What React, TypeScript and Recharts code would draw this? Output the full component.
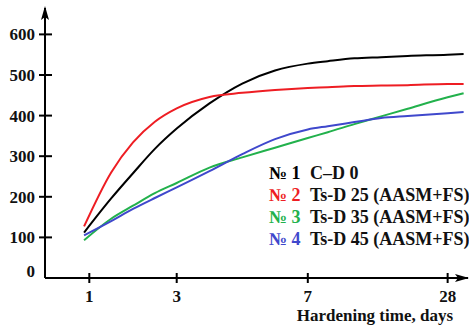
import React from "react";
import { LineChart, Line, XAxis, YAxis, Legend } from "recharts";

// hardening days shown on the x axis
const tickDays = [1, 3, 7, 28];
const tickLabels = ["1", "3", "7", "28"];
const valueTicks = [0, 100, 200, 300, 400, 500, 600];

// points
const sampleDays = [0.88, 1.5, 2, 2.5, 3, 4, 5, 6, 7, 10, 14, 18, 22, 28, 30.4];
const cd0 = [112, 196, 258, 318, 368, 430, 479, 511, 528, 534, 541, 544, 547, 550, 552];
const tsd25 = [127, 260, 334, 385, 418, 446, 456, 463, 468, 470, 473, 474, 475, 478, 478];
const tsd35 = [93, 146, 178, 209, 234, 272, 297, 321, 345, 359, 379, 398, 417, 445, 455];
const tsd45 = [105, 140, 170, 197, 223, 263, 305, 342, 366, 374, 384, 394, 399, 406, 409];

const seriesKeys = ["cd0", "tsd25", "tsd35", "tsd45"];
const seriesNumbers = ["№ 1", "№ 2", "№ 3", "№ 4"];
const seriesNames = ["C–D 0", "Ts-D 25 (AASM+FS)", "Ts-D 35 (AASM+FS)", "Ts-D 45 (AASM+FS)"];
const seriesColors = ["#000000", "#ee1d23", "#22b14c", "#3f48cc"];

// the original x axis is stretched piecewise between the day ticks
const AXIS_STEPS = [0, 1, 2.5, 4.1];
function dayToAxis(d: number) {
  let i = 0;
  while (i < tickDays.length - 2 && d > tickDays[i + 1]) i++;
  const t = (d - tickDays[i]) / (tickDays[i + 1] - tickDays[i]);
  return AXIS_STEPS[i] + t * (AXIS_STEPS[i + 1] - AXIS_STEPS[i]);
}

const data = sampleDays.map((d, i) => ({
  u: dayToAxis(d),
  cd0: cd0[i],
  tsd25: tsd25[i],
  tsd35: tsd35[i],
  tsd45: tsd45[i],
}));

const FONT = '"Liberation Serif", "Times New Roman", serif';
const AXIS_X = 45;
const AXIS_Y = 278;

const YTick = (props: any) => {
  const { payload } = props;
  const cy = payload.coordinate ?? props.y;
  const v = payload.value;
  return (
    <g>
      {v !== 0 && <line x1={AXIS_X - 6} x2={AXIS_X + 7} y1={cy} y2={cy} stroke="#000" strokeWidth={2} />}
      <text x={35} y={v === 0 ? cy - 7 : cy} dy="0.35em" textAnchor="end" fontFamily={FONT} fontWeight="bold" fontSize={17} fill="#111">
        {v}
      </text>
    </g>
  );
};

const XTick = (props: any) => {
  const { payload } = props;
  const cx = payload.coordinate ?? props.x;
  const idx = tickDays.findIndex((d) => Math.abs(dayToAxis(d) - payload.value) < 1e-6);
  return (
    <g>
      <line x1={cx} x2={cx} y1={AXIS_Y - 5} y2={AXIS_Y + 5} stroke="#000" strokeWidth={2} />
      <text x={cx} y={296} dy="0.35em" textAnchor="middle" fontFamily={FONT} fontWeight="bold" fontSize={17} fill="#111">
        {idx >= 0 ? tickLabels[idx] : ""}
      </text>
    </g>
  );
};

const LegendBox = () => (
  <div style={{ fontFamily: FONT, fontWeight: "bold", fontSize: 18, lineHeight: "22px", whiteSpace: "nowrap" }}>
    {seriesNames.map((name, i) => (
      <div key={name}>
        <span style={{ display: "inline-block", width: 41, color: seriesColors[i] }}>{seriesNumbers[i]}</span>
        <span style={{ color: "#111" }}>{name}</span>
      </div>
    ))}
  </div>
);

export default function App() {
  return (
    <div style={{ position: "absolute", left: 0, top: 0, width: 469, height: 327, background: "#fff" }}>
      <LineChart width={469} height={327} data={data} margin={{ top: 8, right: 1, left: 0, bottom: 0 }}>
        <XAxis
          type="number"
          dataKey="u"
          domain={[-0.507, 4.333]}
          allowDataOverflow
          ticks={tickDays.map(dayToAxis)}
          height={49}
          axisLine={{ stroke: "#000", strokeWidth: 2 }}
          tickLine={false}
          tick={<XTick />}
          label={() => (
            <text x={453} y={321} textAnchor="end" fontFamily={FONT} fontWeight="bold" fontSize={17} fill="#111">
              Hardening time, days
            </text>
          )}
        />
        <YAxis
          type="number"
          domain={[0, 665]}
          allowDataOverflow
          ticks={valueTicks}
          width={45}
          axisLine={{ stroke: "#000", strokeWidth: 2 }}
          tickLine={false}
          tick={<YTick />}
        />
        <Legend
          layout="vertical"
          align="center"
          verticalAlign="middle"
          content={<LegendBox />}
          wrapperStyle={{ left: 269, top: 162, width: 200 }}
        />
        {seriesKeys.map((k, i) => (
          <Line
            key={k}
            type="monotone"
            dataKey={k}
            name={seriesNames[i]}
            stroke={seriesColors[i]}
            strokeWidth={2}
            dot={false}
            isAnimationActive={false}
          />
        ))}
      </LineChart>
      <svg width={469} height={327} style={{ position: "absolute", left: 0, top: 0, pointerEvents: "none" }}>
        <path d={`M${AXIS_X} 6 L${AXIS_X + 4} 20 L${AXIS_X} 17 L${AXIS_X - 4} 20 Z`} fill="#000" />
        <path d={`M469 ${AXIS_Y} L455 ${AXIS_Y - 4} L458 ${AXIS_Y} L455 ${AXIS_Y + 4} Z`} fill="#000" />
      </svg>
    </div>
  );
}
